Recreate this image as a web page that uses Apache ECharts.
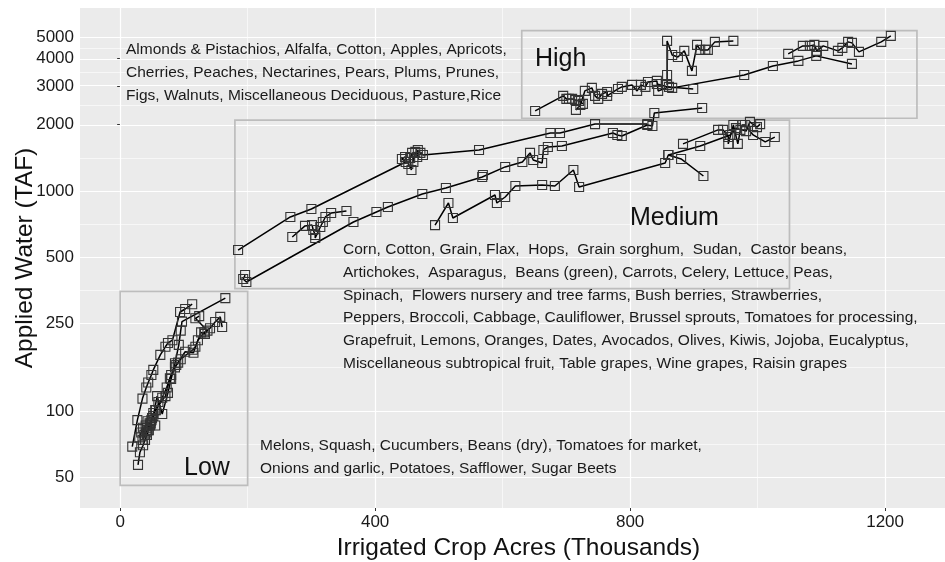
<!DOCTYPE html>
<html>
<head>
<meta charset="utf-8">
<script src="https://cdn.jsdelivr.net/npm/echarts@6/dist/echarts.min.js"></script>
<style>
  html, body { margin: 0; padding: 0; background: #fff; }
  #chart { width: 945px; height: 562px; }
</style>
</head>
<body>
<div id="chart"></div>
<script>
// [acres (thousands), applied water (TAF)]
var low1 = [[19,69],[27,91],[35,114],[41,128],[44,135],[49,146],[52,154],[63,180],[71,196],[75,204],[82,210],[94,282],[102,291],[113,306]];
var low2 = [[28,57],[31,65],[36,70],[39,74],[42,78],[44,82],[47,86],[49,91],[52,95],[58,117],[66,97],[75,121],[80,140],[86,165],[92,200],[95,232],[97,255],[165,326]];
var low3 = [[35,74],[41,80],[47,87],[55,101],[71,117],[78,141],[88,162],[102,186],[115,184],[122,210],[132,228],[141,238],[149,254],[157,268],[160,241]];
var low4 = [[42,84],[46,88],[50,93],[56,101],[66,115],[73,128],[80,146],[86,158],[91,166],[95,172],[114,190],[118,196],[127,228],[133,224],[137,232],[118,264],[124,270]];
var low5 = [[30,76],[33,80],[36,84],[38,78],[40,86],[43,90],[45,82],[48,88],[52,98],[55,86],[60,110]];

var med1 = [[185,539],[267,762],[300,828],[448,1354],[442,1398],[447,1427],[452,1327],[457,1246],[455,1412],[458,1489],[460,1354],[463,1505],[466,1427],[467,1536],[471,1489],[475,1457],[563,1536],[675,1835],[690,1835],[745,2013],[827,2013]];
var med2 = [[196,415],[193,398],[198,386],[366,723],[402,803],[420,846],[474,969],[511,1032],[568,1158],[569,1182],[604,1286],[631,1354],[643,1489],[648,1383],[662,1340],[664,1536],[671,1585],[693,1602],[773,1835],[780,1797],[787,1778],[827,1995],[835,1973],[838,2262],[913,2383]];
var med3 = [[494,700],[515,882],[522,754],[588,959],[591,882],[604,939],[620,1054],[662,1065],[682,1054],[711,1246],[720,1043],[855,1340],[860,1457],[880,1398],[915,1170]];
var med4 = [[270,618],[290,694],[301,700],[303,665],[306,631],[306,612],[314,686],[318,723],[322,762],[331,794],[355,811]];
var med5 = [[883,1636],[938,1894],[946,1894],[954,1758],[954,1636],[962,1995],[969,1636],[973,1894],[976,1995],[980,1995],[993,1797],[1012,1670],[1027,1758]];
var med6 = [[860,1457],[910,1602],[957,1797],[966,1930],[982,1870],[988,2060],[999,1950],[1004,2013]];

var high1 = [[651,2310],[695,2703],[700,2620],[704,2620],[709,2620],[714,2592],[720,2565],[726,2486]];
var high2 = [[715,2335],[722,2460],[729,2848],[740,2940],[745,2703],[750,2620],[756,2760],[764,2818],[764,2703],[781,2908],[787,2970],[803,3033],[811,2848],[817,3033],[824,2970],[828,3129],[842,3162],[844,2848],[861,2970],[899,2908]];
var high3 = [[842,3060],[866,2940],[979,3365],[1024,3699],[1064,3899],[1092,4109],[1148,3778]];
var high4 = [[858,3033],[858,3365],[858,4806],[866,4150],[875,4064],[885,4329],[897,3512],[905,4610],[910,4375],[918,4375],[922,4375],[933,4757],[962,4806]];
var high5 = [[1048,4195],[1071,4562],[1082,4562],[1089,4610],[1093,4329],[1103,4562],[1126,4329],[1133,4467],[1142,4757],[1148,4707],[1159,4283],[1194,4757],[1209,5064]];

// boxes: [xmin, ymin, xmax, ymax]
var lowBox = [0, 46, 200, 350];
var medBox = [180, 360, 1050, 2100];
var highBox = [630, 2140, 1250, 5350];

var xTicks = [0, 400, 800, 1200];
var xMinor = [200, 600, 1000];
var yTicks = [50, 100, 250, 500, 1000, 2000, 3000, 4000, 5000];

var highCrops = [
  'Almonds & Pistachios, Alfalfa, Cotton, Apples, Apricots,',
  'Cherries, Peaches, Nectarines, Pears, Plums, Prunes,',
  'Figs, Walnuts, Miscellaneous Deciduous, Pasture,Rice'
];
var medCrops = [
  'Corn, Cotton, Grain, Flax,  Hops,  Grain sorghum,  Sudan,  Castor beans,',
  'Artichokes,  Asparagus,  Beans (green), Carrots, Celery, Lettuce, Peas,',
  'Spinach,  Flowers nursery and tree farms, Bush berries, Strawberries,',
  'Peppers, Broccoli, Cabbage, Cauliflower, Brussel sprouts, Tomatoes for processing,',
  'Grapefruit, Lemons, Oranges, Dates, Avocados, Olives, Kiwis, Jojoba, Eucalyptus,',
  'Miscellaneous subtropical fruit, Table grapes, Wine grapes, Raisin grapes'
];
var lowCrops = [
  'Melons, Squash, Cucumbers, Beans (dry), Tomatoes for market,',
  'Onions and garlic, Potatoes, Safflower, Sugar Beets'
];

var FONT = 'Liberation Sans, Arial, Helvetica, sans-serif';
function lg(v) { return Math.log10(v); }

// ggplot minor breaks sit half way between majors on the log scale
var yMinor = [];
for (var i = 0; i < yTicks.length - 1; i++) {
  yMinor.push((lg(yTicks[i]) + lg(yTicks[i + 1])) / 2);
}

var gridLines = [];
xTicks.forEach(function (v) { gridLines.push({ xAxis: v, lineStyle: { width: 1.2 } }); });
xMinor.forEach(function (v) { gridLines.push({ xAxis: v, lineStyle: { width: 0.6 } }); });
yTicks.forEach(function (v) { gridLines.push({ yAxis: lg(v), lineStyle: { width: 1.2 } }); });
yMinor.forEach(function (v) { gridLines.push({ yAxis: v, lineStyle: { width: 0.6 } }); });

function boxArea(b) {
  return [{ xAxis: b[0], yAxis: lg(b[1]) }, { xAxis: b[2], yAxis: lg(b[3]) }];
}

var allLines = [low1, low2, low3, low4, low5, med1, med2, med3, med4, med5, med6, high1, high2, high3, high4, high5];

var series = [
  {
    type: 'scatter', data: [], silent: true, z: 1,
    markLine: {
      silent: true, z: 1, symbol: ['none', 'none'], label: { show: false },
      lineStyle: { color: '#ffffff', type: 'solid' },
      emphasis: { disabled: true },
      data: gridLines
    }
  },
  {
    type: 'scatter', data: [], silent: true, z: 2,
    markArea: {
      silent: true, z: 2,
      itemStyle: { color: 'rgba(0,0,0,0)', borderColor: '#BDBDBD', borderWidth: 1.7 },
      emphasis: { disabled: true },
      data: [boxArea(lowBox), boxArea(medBox), boxArea(highBox)]
    }
  }
];

allLines.forEach(function (arr) {
  series.push({
    type: 'line',
    z: 3,
    data: arr.map(function (p) { return [p[0], lg(p[1])]; }),
    symbol: 'rect',
    symbolSize: 9,
    showSymbol: true,
    lineStyle: { color: '#000', width: 1.5 },
    itemStyle: { color: 'rgba(0,0,0,0)', borderColor: '#333', borderWidth: 1.1 },
    emphasis: { disabled: true },
    silent: true
  });
});

var chart = echarts.init(document.getElementById('chart'), null, { renderer: 'canvas' });
chart.setOption({
  animation: false,
  grid: { left: 80, right: 0, top: 8, bottom: 54, show: true, backgroundColor: '#EBEBEB', borderWidth: 0, outerBoundsMode: 'none', containLabel: false },
  xAxis: {
    type: 'value', min: -63, max: 1294,
    name: 'Irrigated Crop Acres (Thousands)', nameLocation: 'middle', nameGap: 28,
    nameTextStyle: { fontSize: 24.5, color: '#111', fontFamily: FONT, padding: [0, 0, 0, 12] },
    axisLine: { show: false },
    axisTick: { show: true, customValues: xTicks, length: 3, lineStyle: { color: '#333' } },
    axisLabel: {
      customValues: xTicks, fontSize: 17, color: '#1a1a1a', margin: 6, fontFamily: FONT,
      formatter: function (v) { return String(v); }
    },
    splitLine: { show: false }
  },
  yAxis: {
    type: 'value', min: lg(36.3), max: lg(6780),
    name: 'Applied Water (TAF)', nameLocation: 'middle', nameGap: 42, nameMoveOverlap: false,
    nameTextStyle: { fontSize: 24.5, color: '#111', fontFamily: FONT },
    axisLine: { show: false },
    axisTick: { show: true, customValues: yTicks.map(lg), length: 3, lineStyle: { color: '#333' } },
    axisLabel: {
      customValues: yTicks.map(lg), fontSize: 17, color: '#1a1a1a', margin: 6, fontFamily: FONT,
      formatter: function (v) { return String(Math.round(Math.pow(10, v))); }
    },
    splitLine: { show: false }
  },
  graphic: [
    { type: 'text', x: 126, y: 38.5, z: 10, style: { text: highCrops.join('\n'), fontSize: 15.5, lineHeight: 23, fontFamily: FONT, fill: '#1a1a1a', verticalAlign: 'top' } },
    { type: 'text', x: 343, y: 238.6, z: 10, style: { text: medCrops.join('\n'), fontSize: 15.5, lineHeight: 22.7, fontFamily: FONT, fill: '#1a1a1a', verticalAlign: 'top' } },
    { type: 'text', x: 260, y: 434.5, z: 10, style: { text: lowCrops.join('\n'), fontSize: 15.5, lineHeight: 23, fontFamily: FONT, fill: '#1a1a1a', verticalAlign: 'top' } },
    { type: 'text', x: 535, y: 59, z: 10, style: { text: 'High', fontSize: 25, fontFamily: FONT, fill: '#111', verticalAlign: 'middle' } },
    { type: 'text', x: 630, y: 218, z: 10, style: { text: 'Medium', fontSize: 25, fontFamily: FONT, fill: '#111', verticalAlign: 'middle' } },
    { type: 'text', x: 184, y: 468, z: 10, style: { text: 'Low', fontSize: 25, fontFamily: FONT, fill: '#111', verticalAlign: 'middle' } }
  ],
  series: series
});
</script>
</body>
</html>
